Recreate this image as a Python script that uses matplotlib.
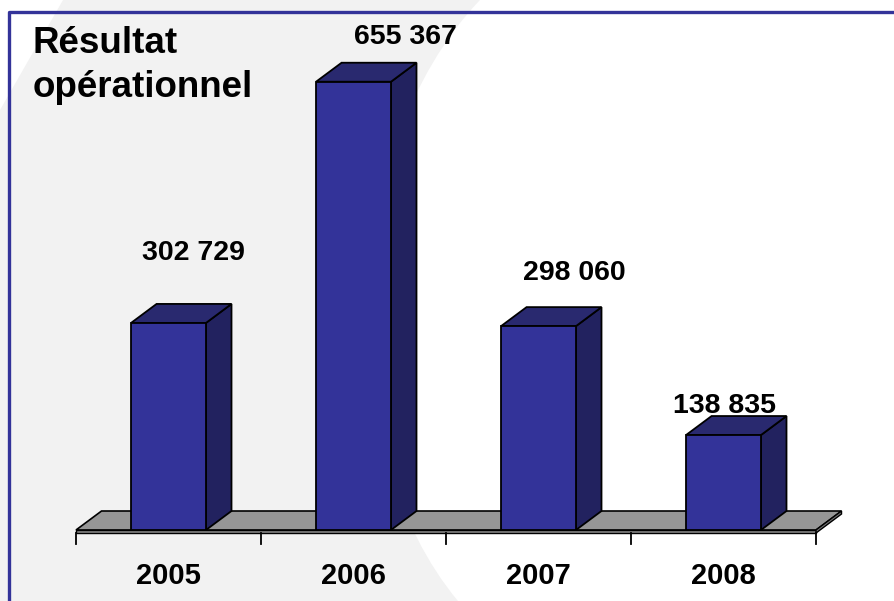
import numpy as np
import matplotlib
matplotlib.use('Agg')
import matplotlib.pyplot as plt
from matplotlib.patches import Polygon, PathPatch
from matplotlib.path import Path

plt.rcParams['font.family'] = ['Liberation Sans', 'DejaVu Sans']

# données
years = ['2005', '2006', '2007', '2008']
values = [302729, 655367, 298060, 138835]
value_labels = ['302 729', '655 367', '298 060', '138 835']
title_lines = ['Résultat', 'opérationnel']

# décalage manuel des étiquettes (en pixels, comme dans l'original)
label_dx = [25, 52, 36, 1]
label_dy = [70, 45, 53, 29]

W, H = 895, 601
fig = plt.figure(figsize=(W / 100, H / 100), dpi=100)
fig.patch.set_facecolor('white')

# fond : bande gris clair + cadre bleu
bg = fig.add_axes([0, 0, 1, 1])
bg.set_xlim(0, W)
bg.set_ylim(H, 0)
bg.axis('off')
verts = [(63, 0), (480, 0), (337, 150), (333, 451), (458, H), (0, H), (0, 110), (63, 0)]
codes = [Path.MOVETO, Path.LINETO, Path.CURVE4, Path.CURVE4, Path.CURVE4,
         Path.LINETO, Path.LINETO, Path.CLOSEPOLY]
bg.add_patch(PathPatch(Path(verts, codes), facecolor='#f2f2f2', edgecolor='none'))
bg.plot([9, 9, W], [H, 12, 12], color='#333399', lw=2.4, solid_capstyle='butt')

bg.text(33, 53, title_lines[0], fontsize=26.5, fontweight='bold', va='baseline', ha='left')
bg.text(33, 97, title_lines[1], fontsize=26.5, fontweight='bold', va='baseline', ha='left')

# graphique
px = 0.000684          # pixels par unité
ax = fig.add_axes([0, 0, 1, 1])
ax.patch.set_alpha(0)
ax.set_xlim(-168.5 / 185, (W - 168.5) / 185)
ax.set_ylim(-(H - 530) / px, 530 / px)
ax.axis('off')

w = 0.405
dx = 0.138
dy = 19 / px
thick = 3 / px
n = len(values)

front_c = '#333399'
side_c = '#22225f'
top_c = '#29296f'
floor_c = '#969696'

# sol
x0, x1 = -0.5, n - 0.5
ax.add_patch(Polygon([(x0, 0), (x1, 0), (x1 + dx, dy), (x0 + dx, dy)],
                     closed=True, fc=floor_c, ec='black', lw=1.2, zorder=1))
ax.add_patch(Polygon([(x0, 0), (x1, 0), (x1, -thick), (x0, -thick)],
                     closed=True, fc='#8a8a8a', ec='black', lw=1.0, zorder=1))
ax.add_patch(Polygon([(x1, 0), (x1 + dx, dy), (x1 + dx, dy - thick), (x1, -thick)],
                     closed=True, fc='#7a7a7a', ec='black', lw=1.0, zorder=1))

for k in range(n + 1):
    ax.plot([x0 + k, x0 + k], [-thick, -thick - 11 / px], color='black', lw=1.3, zorder=1)

# barres
for i, v in enumerate(values):
    l, r = i - w / 2, i + w / 2
    ax.add_patch(Polygon([(r, 0), (r + dx, dy), (r + dx, v + dy), (r, v)],
                         closed=True, fc=side_c, ec='black', lw=1.3, zorder=3))
    ax.add_patch(Polygon([(l, v), (r, v), (r + dx, v + dy), (l + dx, v + dy)],
                         closed=True, fc=top_c, ec='black', lw=1.3, zorder=3))
    ax.add_patch(Polygon([(l, 0), (r, 0), (r, v), (l, v)],
                         closed=True, fc=front_c, ec='black', lw=1.3, zorder=4))
    ax.text(i + label_dx[i] / 185, v + label_dy[i] / px, value_labels[i],
            fontsize=20.5, fontweight='bold', ha='center', va='center', zorder=5)
    ax.text(i, -46 / px, years[i], fontsize=21, fontweight='bold',
            ha='center', va='center', zorder=5)

fig.savefig('out.png', dpi=100)
